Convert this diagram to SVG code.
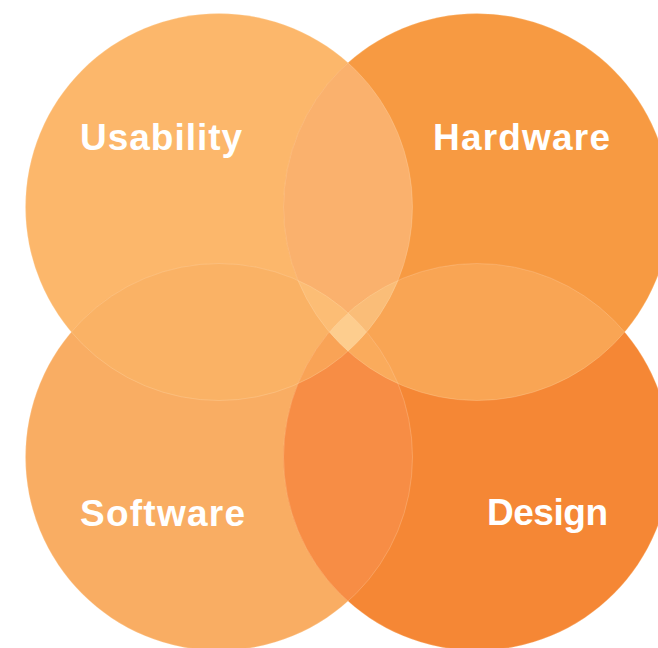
<svg xmlns="http://www.w3.org/2000/svg" width="658" height="648" viewBox="0 0 658 648">
<style>
.lbl{font-family:"Liberation Sans",Arial,sans-serif;font-weight:bold;font-size:37px;fill:#ffffff}
.edge{fill:none;stroke:#ffe6c4;stroke-opacity:0.35;stroke-width:0.7}
</style>
<defs>
<circle id="cu" cx="219" cy="207" r="193.5"/>
<circle id="ch" cx="477" cy="207" r="193.5"/>
<circle id="cs" cx="219" cy="457" r="193.5"/>
<circle id="cd" cx="477" cy="457" r="193.5"/>
<clipPath id="clipU"><use href="#cu"/></clipPath>
<clipPath id="clipH"><use href="#ch"/></clipPath>
<clipPath id="clipS"><use href="#cs"/></clipPath>
<clipPath id="clipD"><use href="#cd"/></clipPath>
</defs>
<rect width="658" height="648" fill="#ffffff"/>
<g id="node-usability">
<use href="#cu" fill="#fcb76b"/>
<text class="lbl" x="80" y="150" textLength="162" lengthAdjust="spacing">Usability</text>
</g>
<g id="node-hardware">
<use href="#ch" fill="#f79a42"/>
<text class="lbl" x="433" y="150" textLength="177" lengthAdjust="spacing">Hardware</text>
</g>
<g id="node-software">
<use href="#cs" fill="#f9ad63"/>
<text class="lbl" x="80" y="526" textLength="165" lengthAdjust="spacing">Software</text>
</g>
<g id="node-design">
<use href="#cd" fill="#f58735"/>
<text class="lbl" x="487" y="525" textLength="121" lengthAdjust="spacing">Design</text>
</g>
<g id="overlaps">
<use href="#ch" fill="#fab16d" clip-path="url(#clipU)"/>
<use href="#cs" fill="#fab265" clip-path="url(#clipU)"/>
<use href="#cd" fill="#f9a554" clip-path="url(#clipH)"/>
<use href="#cd" fill="#f78d45" clip-path="url(#clipS)"/>
<g clip-path="url(#clipU)"><use href="#cd" fill="#fab668" clip-path="url(#clipH)"/></g>
<g clip-path="url(#clipU)"><use href="#cs" fill="#fcbd75" clip-path="url(#clipH)"/></g>
<g clip-path="url(#clipU)"><use href="#cd" fill="#f9a356" clip-path="url(#clipS)"/></g>
<g clip-path="url(#clipH)"><use href="#cd" fill="#fabd78" clip-path="url(#clipU)"/></g>
<g clip-path="url(#clipH)"><use href="#cd" fill="#faab5c" clip-path="url(#clipS)"/></g>
<g clip-path="url(#clipU)"><g clip-path="url(#clipH)"><use href="#cd" fill="#fdcd8e" clip-path="url(#clipS)"/></g></g>
</g>
<g id="edges">
<use href="#cu" class="edge"/>
<use href="#ch" class="edge"/>
<use href="#cs" class="edge"/>
<use href="#cd" class="edge"/>
</g>
</svg>
